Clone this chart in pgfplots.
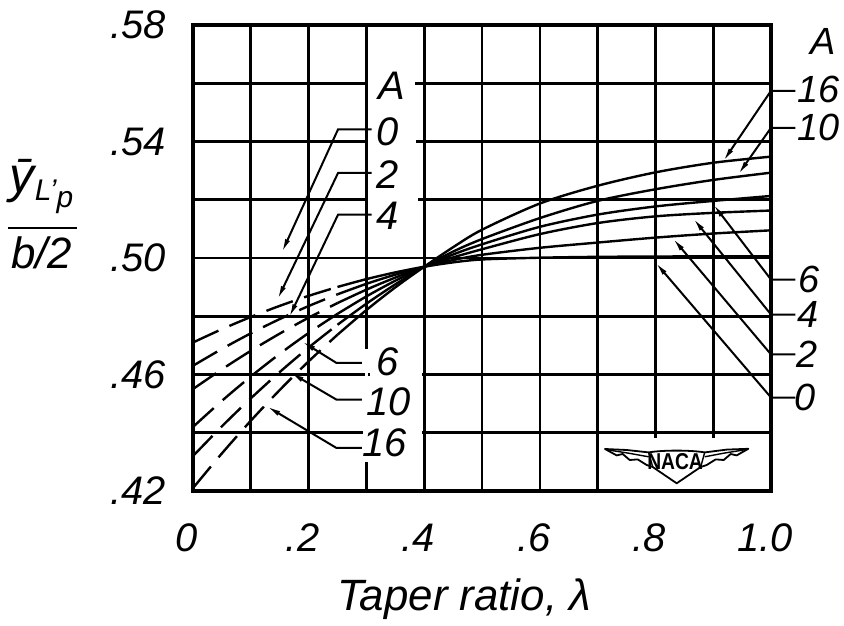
\documentclass[border=0pt]{standalone}
\usepackage{fontspec}
\setmainfont{Liberation Sans}
\usepackage{pgfplots}
\pgfplotsset{compat=1.18}
\usetikzlibrary{arrows.meta}
\newcommand{\lab}{\fontsize{20}{24}\selectfont\itshape}
\newcommand{\rlab}{\fontsize{19}{22}\selectfont\itshape}
\tikzset{ann/.style={black, line width=1bp}}
\pgfplotsset{
  dsh/.style={black, line width=1.2bp, dash pattern=on 14bp off 6bp, smooth},
  sld/.style={black, line width=1.2bp, smooth},
}
\begin{document}
\begin{tikzpicture}[>={Latex[length=7bp,width=2.6bp]}]
\begin{axis}[
  scale only axis, width=289bp, height=233bp,
  xmin=0, xmax=1, ymin=0.42, ymax=0.58,
  xtick={0,0.2,0.4,0.6,0.8,1.0},
  xticklabels={0,.2,.4,.6,.8,1.0},
  minor xtick={0.1,0.3,0.5,0.7,0.9},
  ytick={0.42,0.46,0.50,0.54,0.58},
  yticklabels={.42,.46,.50,.54,.58},
  minor ytick={0.44,0.48,0.52,0.56},
  grid=both,
  major grid style={black, line width=1.3bp},
  minor grid style={black, line width=1.3bp},
  major tick length=0pt, minor tick length=0pt,
  axis line style={line width=1.6bp},
  ticklabel style={font=\lab},
  xticklabel style={yshift=-13bp, xshift=-3bp},
  yticklabel style={xshift=-10bp},
  clip=false,
]
% gaps in the grid around the lettering
\fill[white] (axis cs:0.303,0.5588) rectangle (axis cs:0.384,0.5612);
\fill[white] (axis cs:0.303,0.5388) rectangle (axis cs:0.386,0.5412);
\fill[white] (axis cs:0.303,0.5188) rectangle (axis cs:0.390,0.5212);
\fill[white] (axis cs:0.306,0.4588) rectangle (axis cs:0.397,0.4612);
\fill[white] (axis cs:0.294,0.4388) rectangle (axis cs:0.397,0.4412);
\fill[white] (axis cs:0.297,0.4298) rectangle (axis cs:0.303,0.4686);

% A = 0
\addplot[dsh] coordinates {(0,0.4710) (0.05,0.47556) (0.1,0.47975) (0.15,0.48356) (0.2,0.4870) (0.25,0.49006)};
\addplot[sld] coordinates {(0.25,0.49006) (0.3,0.49275) (0.35,0.49506) (0.4,0.4970) (0.45,0.4985) (0.5,0.4995) (0.6,0.5001) (0.7,0.5004) (0.8,0.5005) (0.9,0.5006) (1.0,0.5006)};
% A = 2
\addplot[dsh] coordinates {(0,0.4630) (0.05,0.46878) (0.1,0.47413) (0.15,0.47903) (0.2,0.4835) (0.25,0.48753)};
\addplot[sld] coordinates {(0.25,0.48753) (0.3,0.49113) (0.35,0.49428) (0.4,0.4970) (0.45,0.4993) (0.5,0.5011) (0.6,0.5035) (0.7,0.5053) (0.8,0.5070) (0.9,0.5084) (1.0,0.5095)};
% A = 4
\addplot[dsh] coordinates {(0,0.4550) (0.05,0.46178) (0.1,0.46813) (0.15,0.47403) (0.2,0.4795) (0.25,0.48453)};
\addplot[sld] coordinates {(0.25,0.48453) (0.3,0.48913) (0.35,0.49328) (0.4,0.4970) (0.45,0.5002) (0.5,0.5030) (0.6,0.5082) (0.7,0.5120) (0.8,0.5143) (0.9,0.5155) (1.0,0.5163)};
% A = 6
\addplot[dsh] coordinates {(0,0.4420) (0.05,0.45095) (0.1,0.45931) (0.15,0.46708) (0.2,0.47425) (0.25,0.48083)};
\addplot[sld] coordinates {(0.25,0.48083) (0.3,0.48681) (0.35,0.4922) (0.4,0.4970) (0.45,0.5012) (0.5,0.5047) (0.6,0.5107) (0.7,0.5149) (0.8,0.5177) (0.9,0.5196) (1.0,0.5213)};
% A = 10
\addplot[dsh] coordinates {(0,0.4320) (0.05,0.4422) (0.1,0.45181) (0.15,0.46083) (0.2,0.46925) (0.25,0.47708)};
\addplot[sld] coordinates {(0.25,0.47708) (0.3,0.48431) (0.35,0.49095) (0.4,0.4970) (0.45,0.5022) (0.5,0.5065) (0.6,0.5137) (0.7,0.5196) (0.8,0.5236) (0.9,0.5268) (1.0,0.5293)};
% A = 16
\addplot[dsh] coordinates {(0,0.4210) (0.05,0.43291) (0.1,0.44413) (0.15,0.45466) (0.2,0.4645) (0.25,0.47366)};
\addplot[sld] coordinates {(0.25,0.47366) (0.3,0.48213) (0.35,0.48991) (0.4,0.4970) (0.45,0.5037) (0.5,0.5097) (0.6,0.5187) (0.7,0.5248) (0.8,0.5294) (0.9,0.5327) (1.0,0.5348)};

% left labels (upper)
\node[font=\lab] at (axis cs:0.344,0.5592) {A};
\draw[ann,->] (axis cs:0.309,0.5442) -- (axis cs:0.251,0.5442) -- (axis cs:0.1535,0.5018);
\draw[ann,->] (axis cs:0.309,0.5292) -- (axis cs:0.251,0.5292) -- (axis cs:0.146,0.4857);
\draw[ann,->] (axis cs:0.309,0.5149) -- (axis cs:0.251,0.5149) -- (axis cs:0.166,0.4795);
\node[font=\lab] at (axis cs:0.336,0.5434) {0};
\node[font=\lab] at (axis cs:0.336,0.5288) {2};
\node[font=\lab] at (axis cs:0.337,0.5145) {4};
% left labels (lower)
\draw[ann,->] (axis cs:0.292,0.4640) -- (axis cs:0.248,0.4640) -- (axis cs:0.188,0.4714);
\draw[ann,->] (axis cs:0.292,0.4514) -- (axis cs:0.248,0.4514) -- (axis cs:0.168,0.4607);
\draw[ann,->] (axis cs:0.292,0.4348) -- (axis cs:0.248,0.4348) -- (axis cs:0.1275,0.4491);
\node[font=\lab] at (axis cs:0.336,0.4645) {6};
\node[font=\lab] at (axis cs:0.339,0.4505) {10};
\node[font=\lab] at (axis cs:0.332,0.4367) {16};
% right labels
\node[font=\rlab] at (axis cs:1.090,0.5742) {A};
\draw[ann,->] (axis cs:1.042,0.5574) -- (axis cs:1.0,0.5574) -- (axis cs:0.917,0.5331);
\draw[ann,->] (axis cs:1.042,0.5447) -- (axis cs:1.0,0.5447) -- (axis cs:0.943,0.5286);
\draw[ann,->] (axis cs:1.042,0.4926) -- (axis cs:1.0,0.4926) -- (axis cs:0.900,0.5185);
\draw[ann,->] (axis cs:1.042,0.4806) -- (axis cs:1.0,0.4806) -- (axis cs:0.865,0.5137);
\draw[ann,->] (axis cs:1.042,0.4669) -- (axis cs:1.0,0.4669) -- (axis cs:0.830,0.5068);
\draw[ann,->] (axis cs:1.042,0.4521) -- (axis cs:1.0,0.4521) -- (axis cs:0.800,0.4985);
\node[font=\rlab, anchor=west, inner sep=0.5bp] at (axis cs:1.043,0.5580) {16};
\node[font=\rlab, anchor=west, inner sep=0.5bp] at (axis cs:1.043,0.5447) {10};
\node[font=\rlab, anchor=west, inner sep=0.5bp] at (axis cs:1.045,0.4926) {6};
\node[font=\rlab, anchor=west, inner sep=0.5bp] at (axis cs:1.043,0.4806) {4};
\node[font=\rlab, anchor=west, inner sep=0.5bp] at (axis cs:1.041,0.4669) {2};
\node[font=\rlab, anchor=west, inner sep=0.5bp] at (axis cs:1.039,0.4521) {0};

% axis titles
\node[font=\fontsize{22}{26}\selectfont\itshape, anchor=base] at (axis description cs:0.469,-0.2554) {Taper ratio, λ};
\node[anchor=base, inner sep=0pt] at (axis description cs:-0.262,0.640)
  {\fontsize{25}{28}\selectfont\itshape \={y}\raisebox{-4bp}{\fontsize{15}{17}\selectfont L'\raisebox{-3.5bp}{p}}};
\draw[line width=1.3bp] (axis description cs:-0.320,0.564) -- (axis description cs:-0.200,0.564);
\node[anchor=base, inner sep=0pt, font=\fontsize{22}{26}\selectfont\itshape] at (axis description cs:-0.262,0.4785) {b/2};
\end{axis}
% NACA emblem
\fill[white] (206.6bp,0.9bp) rectangle (276bp,26.5bp);
\begin{scope}[shift={(241.85bp,15.5bp)}]
\draw[line width=0.9bp, fill=white, line join=round]
  (-35.85bp,5.5bp) -- (-25bp,5.0bp) -- (-14bp,3.8bp) .. controls (-7bp,5.0bp) and (7bp,5.0bp) .. (14bp,3.8bp)
  -- (25bp,5.2bp) -- (35.8bp,5.6bp)
  -- (30bp,2.3bp) -- (27bp,3.0bp) -- (23.5bp,0bp) -- (19.5bp,0.3bp) -- (15bp,-2.5bp) -- (12bp,-3.5bp)
  -- (0bp,-11.65bp)
  -- (-12bp,-3.5bp) -- (-15bp,-2.5bp) -- (-19.5bp,0.3bp) -- (-23.5bp,0bp) -- (-27bp,3.0bp) -- (-30bp,2.3bp) -- cycle;
\draw[line width=0.7bp] (-33.5bp,4.9bp) -- (-24bp,3.4bp) -- (-14bp,1.6bp);
\draw[line width=0.7bp] (33.5bp,5.0bp) -- (24bp,3.5bp) -- (14bp,1.6bp);
\draw[line width=0.7bp] (-14bp,3.8bp) -- (-12bp,-3.5bp);
\draw[line width=0.7bp] (14bp,3.8bp) -- (12bp,-3.5bp);
\node[font=\fontsize{11.5}{13}\selectfont\bfseries, xscale=0.84, inner sep=0pt] at (-0.8bp,-1bp) {NACA};
\end{scope}
\pgfresetboundingbox
\useasboundingbox (-96.5bp,-67.5bp) rectangle (325.5bp,245.5bp);
\end{tikzpicture}
\end{document}
